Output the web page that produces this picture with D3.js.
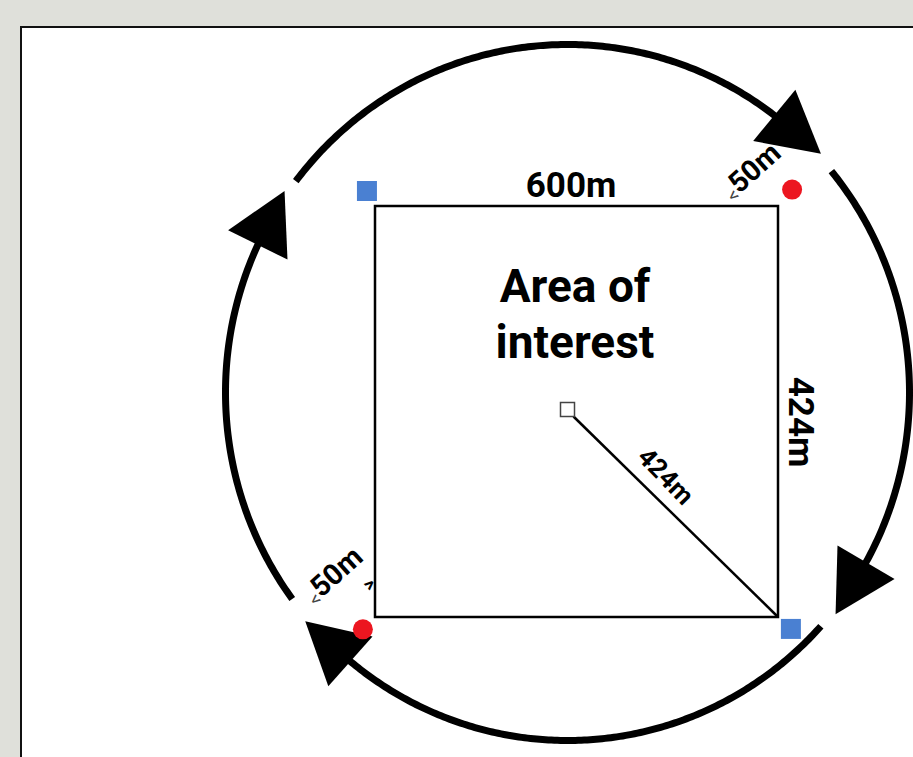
<!DOCTYPE html>
<html>
<head>
<meta charset="utf-8">
<script src="https://cdn.jsdelivr.net/npm/d3@7"></script>
<style>
  html, body { margin: 0; padding: 0; background: #dfe0da; }
  svg { display: block; }
  text { font-family: Roboto, "Liberation Sans", sans-serif; font-weight: 700; fill: #000; }
</style>
</head>
<body>
<svg id="chart" width="913" height="757"></svg>
<script>
// ---- data ----
// circuit arcs: start angle and arrow-tip angle (degrees, clockwise from 12 o'clock)
const arcStartDeg = [233.6, 307.4, 50.5, 132.2];
const arcTipDeg   = [305.0, 407.2, 129.1, 229.4];
// area-of-interest square in diagram units (0..1 each way)
const areaCorners = [[0, 0], [1, 1]];
// markers: blue squares at two corners, red dots near the other two
const blueMarkers = [[-0.02, -0.0365], [1.032, 1.029]];
const redMarkers  = [[1.035, -0.04], [-0.03, 1.03]];
// labels
const titleLines = ["Area of", "interest"];
const topLabel = "600m";
const sideLabel = "424m";
const diagLabel = "424m";
const offsetLabel = "50m";
const offsetPrefix = "<";

// ---- layout scales ----
const svg = d3.select("#chart");
const W = 913, H = 757;
const x = d3.scaleLinear().domain([0, 1]).range([375, 778]);
const y = d3.scaleLinear().domain([0, 1]).range([206, 617]);
const ang = d3.scaleLinear().domain([0, 360]).range([0, 2 * Math.PI]);
const cx = 567.5, cy = 392.5, rx = 342, ry = 348;
function pt(deg, k = 1) {
  const t = ang(deg);
  return [cx + rx * k * Math.sin(t), cy - ry * k * Math.cos(t)];
}

// background panel
svg.append("rect").attr("width", W).attr("height", H).attr("fill", "#dfe0da");
svg.append("rect").attr("x", 21).attr("y", 27).attr("width", W + 10).attr("height", H + 10)
  .attr("fill", "#ffffff").attr("stroke", "#111").attr("stroke-width", 2);

// ---- circuit arcs with arrowheads ----
const arrowLen = 60, arrowHalfW = 33;
const line = d3.line();
const gArc = svg.append("g");
arcStartDeg.forEach((s, i) => {
  const tipDeg = arcTipDeg[i];
  const tip = pt(tipDeg, 1.01);
  let b = tipDeg - 0.5;
  while (b > s) {
    const p = pt(b);
    if (Math.hypot(p[0] - tip[0], p[1] - tip[1]) >= arrowLen) break;
    b -= 0.1;
  }
  const base = pt(b);
  const pts = d3.range(s, b, 0.5).map(d => pt(d));
  pts.push(pt(b + 0.8));
  gArc.append("path").attr("d", line(pts))
    .attr("fill", "none").attr("stroke", "#000").attr("stroke-width", 7);
  const ux = (tip[0] - base[0]) / arrowLen, uy = (tip[1] - base[1]) / arrowLen;
  const nx = -uy, ny = ux;
  const tri = [tip, [base[0] + nx * arrowHalfW, base[1] + ny * arrowHalfW],
               [base[0] - nx * arrowHalfW, base[1] - ny * arrowHalfW]];
  gArc.append("path").attr("d", "M" + tri.map(p => p.join(",")).join("L") + "Z")
    .attr("fill", "#000");
});

// ---- area square ----
svg.append("rect")
  .attr("x", x(areaCorners[0][0])).attr("y", y(areaCorners[0][1]))
  .attr("width", x(areaCorners[1][0]) - x(areaCorners[0][0]))
  .attr("height", y(areaCorners[1][1]) - y(areaCorners[0][1]))
  .attr("fill", "none").attr("stroke", "#000").attr("stroke-width", 2.5);

// centre marker and diagonal
const cxA = x(0.5) - 9, cyA = y(0.5) - 2;
svg.append("line").attr("x1", cxA + 6).attr("y1", cyA + 7).attr("x2", x(1)).attr("y2", y(1))
  .attr("stroke", "#000").attr("stroke-width", 2.5);
svg.append("rect").attr("x", cxA - 7).attr("y", cyA - 7).attr("width", 14).attr("height", 14)
  .attr("fill", "#fff").attr("stroke", "#444").attr("stroke-width", 1.5);

// markers
svg.selectAll(".blue").data(blueMarkers).join("rect").attr("class", "blue")
  .attr("x", d => x(d[0]) - 10).attr("y", d => y(d[1]) - 10)
  .attr("width", 20).attr("height", 20)
  .attr("fill", "#4a80d2");
svg.selectAll(".red").data(redMarkers).join("circle").attr("class", "red")
  .attr("cx", d => x(d[0])).attr("cy", d => y(d[1])).attr("r", 10)
  .attr("fill", "#ec1620");

// ---- labels ----
svg.append("text").attr("x", 571).attr("y", 197).attr("text-anchor", "middle")
  .attr("font-size", 35).text(topLabel);
svg.selectAll(".title").data(titleLines).join("text").attr("class", "title")
  .attr("x", 575).attr("y", (d, i) => 302 + i * 56).attr("text-anchor", "middle")
  .attr("font-size", 46).text(d => d);
svg.append("text").attr("transform", "translate(789,422) rotate(90)")
  .attr("text-anchor", "middle").attr("font-size", 35).text(sideLabel);
svg.append("text").attr("transform", "translate(666,476) rotate(46)")
  .attr("text-anchor", "middle").attr("dy", "0.35em").attr("font-size", 26).text(diagLabel);

function offsetText(px, py) {
  const t = svg.append("text").attr("transform", `translate(${px},${py}) rotate(-42)`)
    .attr("text-anchor", "middle").attr("dy", "0.35em").attr("font-size", 29);
  t.append("tspan").attr("font-size", 19).attr("font-weight", 400).attr("fill", "#444")
    .attr("dy", "0.1em").text(offsetPrefix);
  t.append("tspan").attr("dy", "-0.1em").text(offsetLabel);
}
offsetText(758, 179);
offsetText(340, 583);
svg.append("text").attr("transform", "translate(369,584) rotate(-42)")
  .attr("text-anchor", "middle").attr("dy", "0.35em").attr("font-size", 19)
  .attr("font-weight", 400).attr("fill", "#444").text(">");
</script>
</body>
</html>
